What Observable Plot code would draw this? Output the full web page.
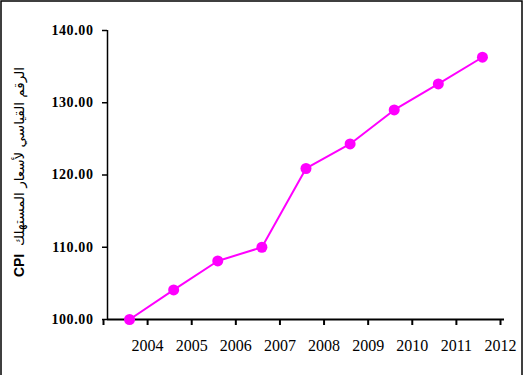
<!DOCTYPE html>
<html>
<head>
<meta charset="utf-8">
<script src="https://cdn.jsdelivr.net/npm/d3@7"></script>
<script src="https://cdn.jsdelivr.net/npm/@observablehq/plot@0.6"></script>
<style>
  html, body { margin: 0; padding: 0; background: #fff; }
</style>
</head>
<body>
<div id="chart"></div>
<script>
// Data
const years = [2004, 2005, 2006, 2007, 2008, 2009, 2010, 2011, 2012];
const cpi = [100.0, 104.1, 108.1, 110.0, 120.9, 124.3, 129.0, 132.6, 136.3];
const yTicks = [100, 110, 120, 130, 140];
const yLabelLatin = "CPI";
const yLabelArabic = "الرقم القياسي لأسعار المستهلك";

const data = years.map((yr, i) => ({ idx: i + 0.5, year: yr, value: cpi[i] }));
const xTicks = d3.range(0, years.length + 1);

const chart = Plot.plot({
  width: 525,
  height: 375,
  marginLeft: 107,
  marginRight: 21,
  marginTop: 30,
  marginBottom: 56,
  style: { background: "#fff", fontFamily: "'Liberation Serif', 'Times New Roman', serif", color: "#000" },
  x: { domain: [0, years.length] },
  y: { domain: [100, 140] },
  marks: [
    Plot.axisY({
      ticks: yTicks,
      tickSize: 5,
      tickPadding: 9,
      tickFormat: d => d.toFixed(2),
      label: null,
      fontSize: 14,
      fontWeight: "bold",
      stroke: "#000",
      strokeWidth: 1.5
    }),
    Plot.axisX({
      ticks: xTicks,
      tickSize: 6,
      tickPadding: 14,
      tickFormat: d => (d >= 1 ? String(years[d - 1]) : ""),
      label: null,
      fontSize: 16,
      dx: -4,
      stroke: "#000",
      strokeWidth: 2
    }),
    Plot.ruleX([0], { stroke: "#000", strokeWidth: 1.5 }),
    Plot.ruleY([100], { stroke: "#000", strokeWidth: 2 }),
    Plot.line(data, { x: "idx", y: "value", stroke: "#ff00ff", strokeWidth: 2 }),
    Plot.dot(data, { x: "idx", y: "value", fill: "#ff00ff", r: 5.5 })
  ]
});

const svg = d3.select(chart);
svg.selectAll("g[aria-label='y-axis tick label'] text").attr("letter-spacing", "0.6");

// Outer frame
svg.append("rect")
  .attr("x", 1).attr("y", 1)
  .attr("width", 521).attr("height", 390)
  .attr("fill", "none").attr("stroke", "#000").attr("stroke-width", 1.5);

// Rotated y-axis title
const t = svg.append("text")
  .attr("transform", "translate(19,172) rotate(-90)")
  .attr("text-anchor", "middle")
  .attr("dominant-baseline", "central")
  .attr("fill", "#000");
t.append("tspan")
  .attr("font-family", "'Liberation Sans', Arial, sans-serif")
  .attr("font-weight", "bold")
  .attr("font-size", 14)
  .text(yLabelLatin + "  ");
t.append("tspan")
  .attr("font-family", "'DejaVu Sans', sans-serif")
  .attr("font-size", 13.5)
  .text(yLabelArabic);

document.getElementById("chart").appendChild(chart);
</script>
</body>
</html>
